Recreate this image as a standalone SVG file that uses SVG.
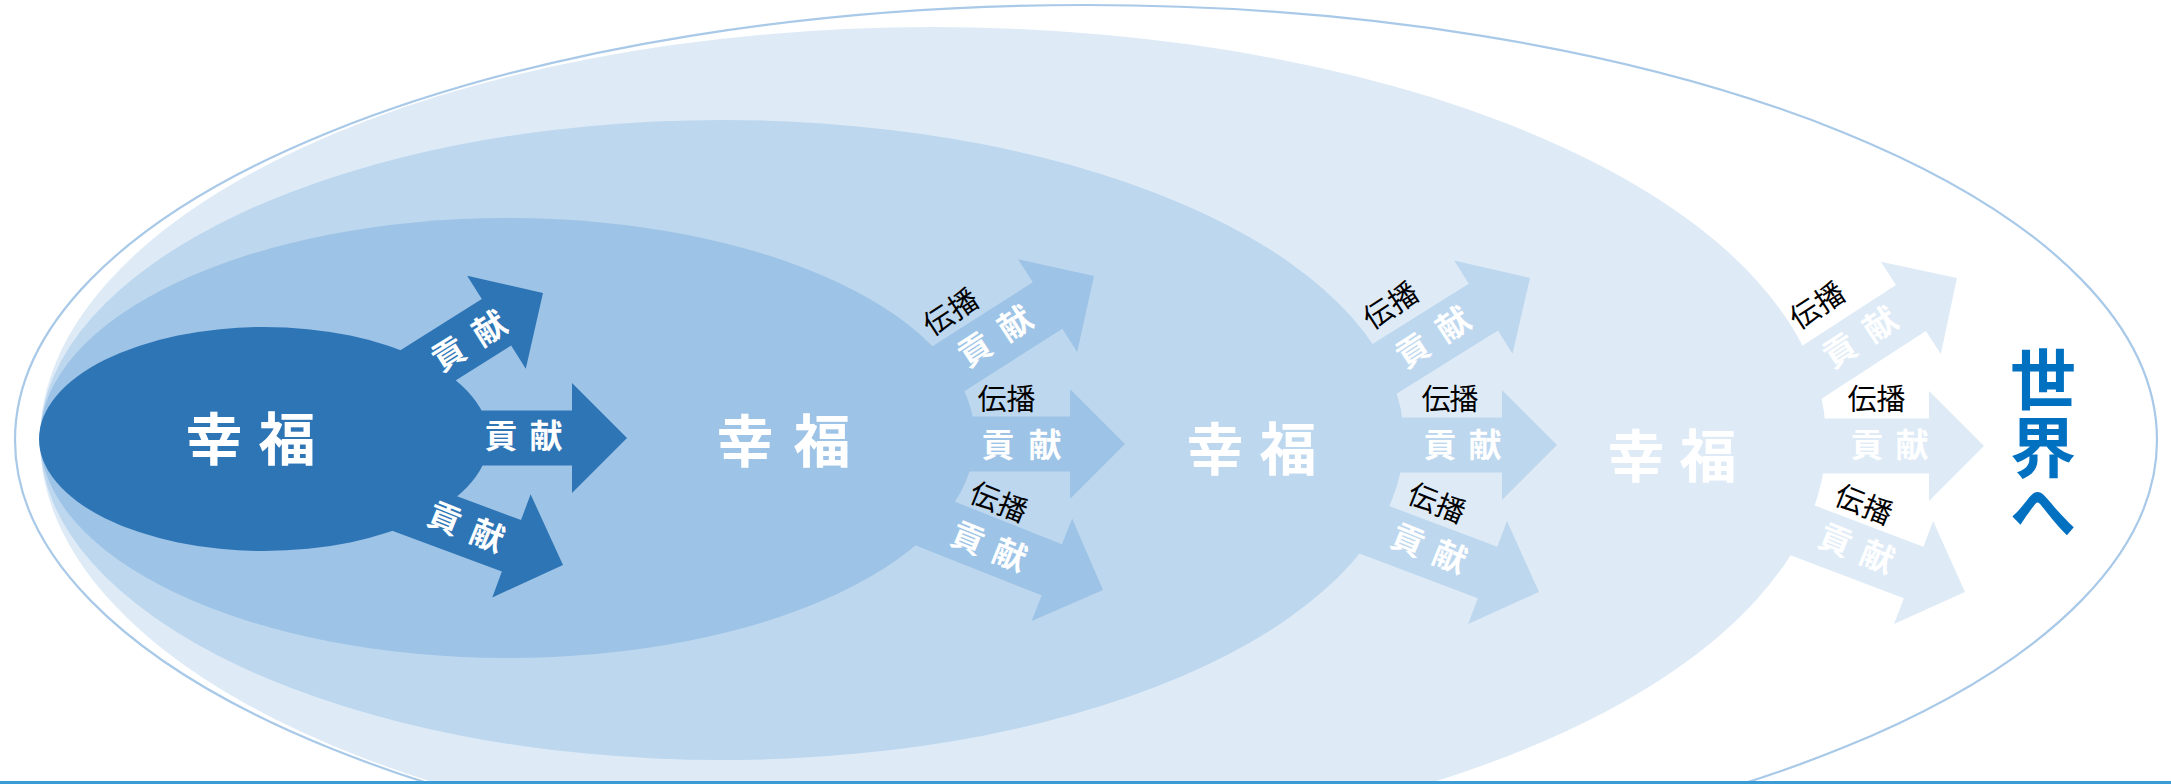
<svg xmlns="http://www.w3.org/2000/svg" xmlns:xlink="http://www.w3.org/1999/xlink" width="2171" height="784" viewBox="0 0 2171 784">
  <style>
    .big { font-family: "Noto Sans CJK JP", "Noto Sans CJK SC", sans-serif; font-size: 57px; font-weight: 700; fill: #ffffff; text-anchor: middle; }
    .kou { font-family: "Noto Sans CJK JP", "Noto Sans CJK SC", sans-serif; font-size: 33px; font-weight: 700; fill: #ffffff; text-anchor: middle; }
    .den { font-family: "Noto Sans CJK JP", "Noto Sans CJK SC", sans-serif; font-size: 29px; font-weight: 400; fill: #000000; text-anchor: middle; }
    .world { font-family: "Noto Sans CJK JP", "Noto Sans CJK SC", sans-serif; font-size: 66px; font-weight: 700; fill: #0070c0; text-anchor: middle; }
    .cD { fill: #2e75b6; }
    .cC { fill: #9dc3e6; }
    .cB { fill: #bdd7ee; }
    .cA { fill: #deebf7; }
  </style>
  <defs>
    <polygon id="arw" points="0,0 -55,-55 -55,-27.5 -200,-27.5 -200,27.5 -55,27.5 -55,55"/>
  </defs>

  <rect x="0" y="0" width="2171" height="784" fill="#ffffff"/>

  <g id="node-world">
    <ellipse cx="1086" cy="440" rx="1071" ry="435" fill="#ffffff" stroke="#a9c9e8" stroke-width="2.2"/>
    <text class="world" x="2043" y="404">世</text>
    <text class="world" x="2043" y="472">界</text>
    <text class="world" x="2043" y="536">へ</text>
  </g>

  <g id="node-A">
    <ellipse class="cA" cx="933" cy="440" rx="893" ry="413"/>
    <text class="big" x="1636 1708" y="477">幸福</text>
  </g>

  <g id="node-B">
    <ellipse class="cB" cx="722" cy="440" rx="682" ry="320"/>
    <text class="big" x="1215 1288" y="470">幸福</text>
  </g>

  <g id="node-C">
    <ellipse class="cC" cx="507.5" cy="438" rx="467.5" ry="220"/>
    <text class="big" x="745 822" y="462">幸福</text>
  </g>

  <g id="node-D">
    <ellipse class="cD" cx="264" cy="439" rx="225" ry="112"/>
    <text class="big" x="214 287" y="460">幸福</text>
  </g>

  <g id="connectors">
    <!-- from D (dark) -->
    <use xlink:href="#arw" class="cD" transform="translate(543,293) rotate(-32.2)"/>
    <use xlink:href="#arw" class="cD" transform="translate(627,438)"/>
    <use xlink:href="#arw" class="cD" transform="translate(563,565) rotate(20.4)"/>
    <!-- from C -->
    <use xlink:href="#arw" class="cC" transform="translate(1094,276) rotate(-32.5)"/>
    <use xlink:href="#arw" class="cC" transform="translate(1125,444)"/>
    <use xlink:href="#arw" class="cC" transform="translate(1103,590) rotate(21.6)"/>
    <!-- from B -->
    <use xlink:href="#arw" class="cB" transform="translate(1530,278) rotate(-32)"/>
    <use xlink:href="#arw" class="cB" transform="translate(1557,445)"/>
    <use xlink:href="#arw" class="cB" transform="translate(1539,592) rotate(20.7)"/>
    <!-- from A -->
    <use xlink:href="#arw" class="cA" transform="translate(1957,278) rotate(-33)"/>
    <use xlink:href="#arw" class="cA" transform="translate(1984,446)"/>
    <use xlink:href="#arw" class="cA" transform="translate(1965,592) rotate(20.8)"/>

    <!-- labels D -->
    <text class="kou" transform="translate(469,341) rotate(-32)" x="-24 24" y="12">貢献</text>
    <text class="kou" x="501 546" y="448">貢献</text>
    <text class="kou" transform="translate(466,527) rotate(22)" x="-23 23" y="12">貢献</text>

    <!-- labels C -->
    <text class="den" transform="translate(951,312.5) rotate(-33)" x="-15 15" y="10">伝播</text>
    <text class="kou" transform="translate(995,336.5) rotate(-33)" x="-24 24" y="12">貢献</text>
    <text class="den" x="992 1021" y="410">伝播</text>
    <text class="kou" x="998 1045" y="457">貢献</text>
    <text class="den" transform="translate(998.5,502.5) rotate(22)" x="-15 15" y="10">伝播</text>
    <text class="kou" transform="translate(989,546.5) rotate(22)" x="-22.5 22.5" y="12">貢献</text>

    <!-- labels B -->
    <text class="den" transform="translate(1391,306) rotate(-33)" x="-15 15" y="10">伝播</text>
    <text class="kou" transform="translate(1433,337.5) rotate(-33)" x="-24 24" y="12">貢献</text>
    <text class="den" x="1436 1464" y="410">伝播</text>
    <text class="kou" x="1440 1485" y="457">貢献</text>
    <text class="den" transform="translate(1436.5,503.5) rotate(22)" x="-15 15" y="10">伝播</text>
    <text class="kou" transform="translate(1429,548.5) rotate(22)" x="-22.5 22.5" y="12">貢献</text>

    <!-- labels A -->
    <text class="den" transform="translate(1817.5,306) rotate(-33)" x="-15 15" y="10">伝播</text>
    <text class="kou" transform="translate(1860,337.5) rotate(-33)" x="-24 24" y="12">貢献</text>
    <text class="den" x="1862 1891" y="410">伝播</text>
    <text class="kou" x="1867 1912" y="457">貢献</text>
    <text class="den" transform="translate(1863.5,505) rotate(22)" x="-15 15" y="10">伝播</text>
    <text class="kou" transform="translate(1856.5,548.5) rotate(22)" x="-22.5 22.5" y="12">貢献</text>
  </g>

  <line x1="0" y1="782.5" x2="2171" y2="782.5" stroke="#3a9bd5" stroke-width="3"/>
</svg>
